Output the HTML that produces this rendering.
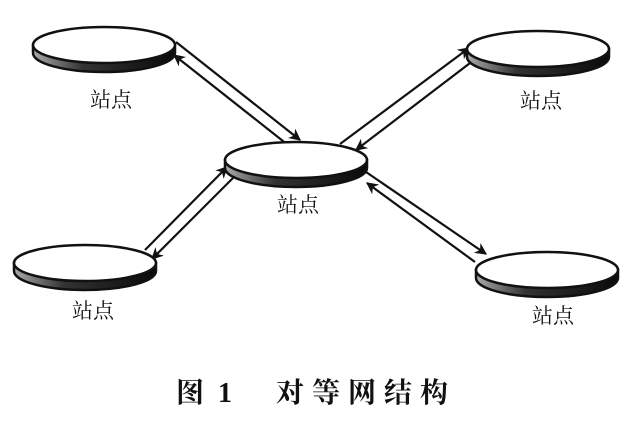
<!DOCTYPE html>
<html><head><meta charset="utf-8"><style>
body{margin:0;background:#fff;}
svg{display:block}
text{font-family:"Liberation Serif","Noto Serif CJK SC","Noto Sans CJK SC",serif;fill:#111}
</style></head><body>
<svg width="633" height="423" viewBox="0 0 633 423" xmlns="http://www.w3.org/2000/svg">
<defs>
<marker id="a" viewBox="0 0 10 10" refX="9" refY="5" markerWidth="12" markerHeight="12" orient="auto" markerUnits="userSpaceOnUse">
<path d="M0,0 L10,5 L0,10 L3,5 z" fill="#111"/></marker>
<linearGradient id="g" x1="0" y1="0" x2="1" y2="0">
<stop offset="0" stop-color="#aaa"/><stop offset="0.35" stop-color="#333"/><stop offset="1" stop-color="#0a0a0a"/></linearGradient>
<g id="d">
<path d="M-71,0 L-71,8 A71,19 0 0 0 71,8 L71,0 Z" fill="url(#g)" stroke="#111" stroke-width="2.5"/>
<ellipse cx="0" cy="0" rx="71" ry="18" fill="#fff" stroke="#111" stroke-width="2.5"/>
</g>
</defs>
<g stroke="#111" stroke-width="2.2" fill="none">
<line x1="176" y1="42" x2="300" y2="140" marker-end="url(#a)"/>
<line x1="288" y1="145" x2="174" y2="55" marker-end="url(#a)"/>
<line x1="340" y1="144" x2="469" y2="48" marker-end="url(#a)"/>
<line x1="474" y1="60" x2="356" y2="150" marker-end="url(#a)"/>
<line x1="145" y1="250" x2="227" y2="167" marker-end="url(#a)"/>
<line x1="233" y1="178" x2="152" y2="259" marker-end="url(#a)"/>
<line x1="366" y1="172" x2="486" y2="254" marker-end="url(#a)"/>
<line x1="475" y1="262" x2="367" y2="183" marker-end="url(#a)"/>
</g>
<use href="#d" x="104" y="45"/>
<use href="#d" x="538" y="49"/>
<use href="#d" x="296" y="160"/>
<use href="#d" x="85" y="263"/>
<use href="#d" x="547" y="270"/>
<g font-size="21" text-anchor="middle">
<text x="111" y="107">站点</text>
<text x="541" y="108">站点</text>
<text x="298" y="212">站点</text>
<text x="93" y="318">站点</text>
<text x="553" y="323">站点</text>
</g>
<g font-size="28" font-weight="bold">
<text x="176" y="402">图</text>
<text x="218" y="402">1</text>
<text x="276" y="402">对</text>
<text x="312" y="402">等</text>
<text x="348" y="402">网</text>
<text x="384" y="402">结</text>
<text x="420" y="402">构</text>
</g>
</svg>
</body></html>
